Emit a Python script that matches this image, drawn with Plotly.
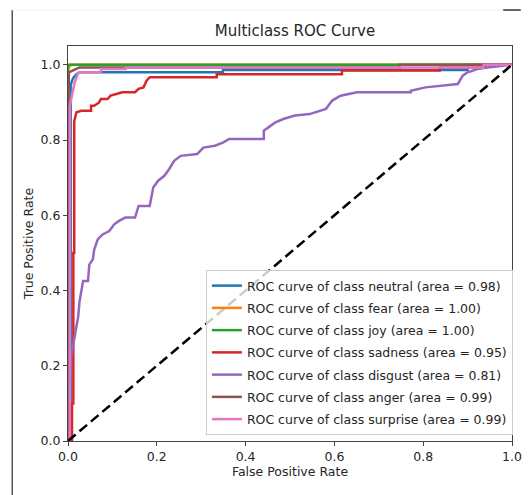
import plotly.graph_objects as go

# ---------------- data ----------------
class_names = ["neutral", "fear", "joy", "sadness", "disgust", "anger", "surprise"]
class_auc = [0.98, 1.00, 1.00, 0.95, 0.81, 0.99, 0.99]
class_colors = ["#1f77b4", "#ff7f0e", "#2ca02c", "#d62728", "#9467bd", "#8c564b", "#e377c2"]

neutral_fpr = [0, 0.006, 0.006, 0.009, 0.013, 0.019, 0.026, 0.349, 0.349, 0.90, 0.90, 1.0]
neutral_tpr = [0, 0, 0.945, 0.958, 0.967, 0.975, 0.980, 0.980, 0.986, 0.986, 1.0, 1.0]

fear_fpr = [0, 0, 0.002, 0.006, 1.0]
fear_tpr = [0, 0.985, 0.993, 1.0, 1.0]

joy_fpr = [0, 0, 1.0]
joy_tpr = [0, 1.0, 1.0]

sadness_fpr = [0, 0.009, 0.009, 0.012, 0.012, 0.014, 0.014, 0.016, 0.019, 0.030, 0.052,
               0.052, 0.059, 0.070, 0.074, 0.089, 0.096, 0.111, 0.122, 0.151, 0.159,
               0.170, 0.177, 0.184, 0.335, 0.335, 0.617, 0.617, 0.837, 0.837, 0.94, 0.94, 1.0]
sadness_tpr = [0, 0, 0.10, 0.10, 0.50, 0.50, 0.850, 0.860, 0.874, 0.878, 0.878,
               0.891, 0.891, 0.900, 0.909, 0.909, 0.918, 0.923, 0.927, 0.927, 0.936,
               0.940, 0.958, 0.967, 0.967, 0.975, 0.975, 0.985, 0.985, 0.993, 0.993, 1.0, 1.0]

disgust_fpr = [0, 0.004, 0.004, 0.007, 0.015, 0.023, 0.026, 0.034, 0.045, 0.048, 0.056,
               0.059, 0.067, 0.078, 0.093, 0.104, 0.115, 0.129, 0.151, 0.159, 0.184,
               0.192, 0.203, 0.217, 0.228, 0.239, 0.254, 0.291, 0.305, 0.331, 0.350,
               0.363, 0.441, 0.441, 0.467, 0.485, 0.511, 0.544, 0.581, 0.595, 0.614,
               0.651, 0.772, 0.772, 0.805, 0.841, 0.878, 0.889, 0.900, 0.922, 0.944, 1.0]
disgust_tpr = [0, 0, 0.144, 0.225, 0.278, 0.331, 0.371, 0.425, 0.425, 0.469, 0.483,
               0.509, 0.536, 0.549, 0.558, 0.576, 0.585, 0.594, 0.594, 0.625, 0.625,
               0.674, 0.692, 0.705, 0.723, 0.745, 0.758, 0.763, 0.780, 0.785, 0.794,
               0.803, 0.803, 0.825, 0.847, 0.856, 0.865, 0.869, 0.883, 0.905, 0.918,
               0.927, 0.927, 0.931, 0.940, 0.945, 0.949, 0.971, 0.980, 0.989, 0.993, 1.0]

anger_fpr = [0, 0, 0.002, 0.015, 0.026, 0.747, 0.747, 1.0]
anger_tpr = [0, 0.84, 0.980, 0.987, 0.993, 0.993, 1.0, 1.0]

surprise_fpr = [0, 0.004, 0.004, 0.008, 0.011, 0.015, 0.019, 0.022, 0.026, 0.074, 0.074,
                0.130, 0.130, 0.936, 0.936, 1.0]
surprise_tpr = [0, 0, 0.890, 0.918, 0.931, 0.953, 0.967, 0.976, 0.980, 0.980, 0.989,
                0.989, 0.993, 0.993, 1.0, 1.0]

chance_x = [0, 1]
chance_y = [0, 1]

x_ticks = [0.0, 0.2, 0.4, 0.6, 0.8, 1.0]
y_ticks = [0.0, 0.2, 0.4, 0.6, 0.8, 1.0]
tick_labels_x = ["0.0", "0.2", "0.4", "0.6", "0.8", "1.0"]
tick_labels_y = ["0.0", "0.2", "0.4", "0.6", "0.8", "1.0"]

all_fpr = [neutral_fpr, fear_fpr, joy_fpr, sadness_fpr, disgust_fpr, anger_fpr, surprise_fpr]
all_tpr = [neutral_tpr, fear_tpr, joy_tpr, sadness_tpr, disgust_tpr, anger_tpr, surprise_tpr]

# ---------------- figure ----------------
FONT = "DejaVu Sans"
TXT = "#262626"
fig = go.Figure()

for i, name in enumerate(class_names):
    fig.add_trace(go.Scatter(
        x=all_fpr[i], y=all_tpr[i], mode="lines",
        line=dict(color=class_colors[i], width=2.5),
        name=f"ROC curve of class {name} (area = {class_auc[i]:.2f})",
        legendgroup=f"g{i}",
    ))

fig.add_trace(go.Scatter(
    x=chance_x, y=chance_y, mode="lines",
    line=dict(color="black", width=2.5, dash="10px,5px"),
    showlegend=False, hoverinfo="skip",
))

W, H = 531, 495
L, R, T, B = 68, 9, 46, 54
pw, ph = W - L - R, H - T - B


def px_x(px):
    return (px - L) / pw


def px_y(py):
    return (H - B - py) / ph


fig.update_layout(
    width=W, height=H,
    margin=dict(l=L, r=R, t=T, b=B),
    paper_bgcolor="white", plot_bgcolor="white",
    font=dict(family=FONT, size=12.5, color=TXT),
    title=dict(text="Multiclass ROC Curve", x=(L + pw / 2) / W, xanchor="center",
               y=1 - 31 / H, yanchor="middle",
               font=dict(family=FONT, size=15, color=TXT)),
    showlegend=True,
    legend=dict(
        x=px_x(209), y=px_y(435), xanchor="left", yanchor="bottom",
        bgcolor="rgba(255,255,255,0.8)", bordercolor="#cccccc", borderwidth=1,
        font=dict(family=FONT, size=12.5, color=TXT),
        traceorder="grouped", tracegroupgap=3,
        entrywidth=268, entrywidthmode="pixels",
    ),
    xaxis=dict(
        range=[0, 1], tickvals=x_ticks, ticktext=tick_labels_x,
        showgrid=False, zeroline=False, showline=True, linecolor="#444444", linewidth=1,
        mirror=True, ticks="outside", ticklen=4, tickcolor="#444444",
        ticklabeloverflow="allow",
        title=dict(text="False Positive Rate", standoff=3,
                   font=dict(family=FONT, size=12.5, color=TXT)),
        tickfont=dict(family=FONT, size=12.5, color=TXT),
    ),
    yaxis=dict(
        range=[0, 1.05], tickvals=y_ticks, ticktext=tick_labels_y,
        showgrid=False, zeroline=False, showline=True, linecolor="#444444", linewidth=1,
        mirror=True, ticks="outside", ticklen=4, tickcolor="#444444",
        title=dict(text="True Positive Rate", standoff=4,
                   font=dict(family=FONT, size=12.5, color=TXT)),
        tickfont=dict(family=FONT, size=12.5, color=TXT),
    ),
    shapes=[
        dict(type="line", xref="paper", yref="paper",
             x0=px_x(11), x1=px_x(11), y0=px_y(10), y1=px_y(495),
             line=dict(color="#555555", width=1.5)),
        dict(type="line", xref="paper", yref="paper",
             x0=px_x(11), x1=px_x(513), y0=px_y(10), y1=px_y(10),
             line=dict(color="#eeeeee", width=1)),
        dict(type="line", xref="paper", yref="paper",
             x0=px_x(513), x1=px_x(531), y0=px_y(10), y1=px_y(10),
             line=dict(color="#333333", width=1.5)),
    ],
)

fig.write_html("out.html")
